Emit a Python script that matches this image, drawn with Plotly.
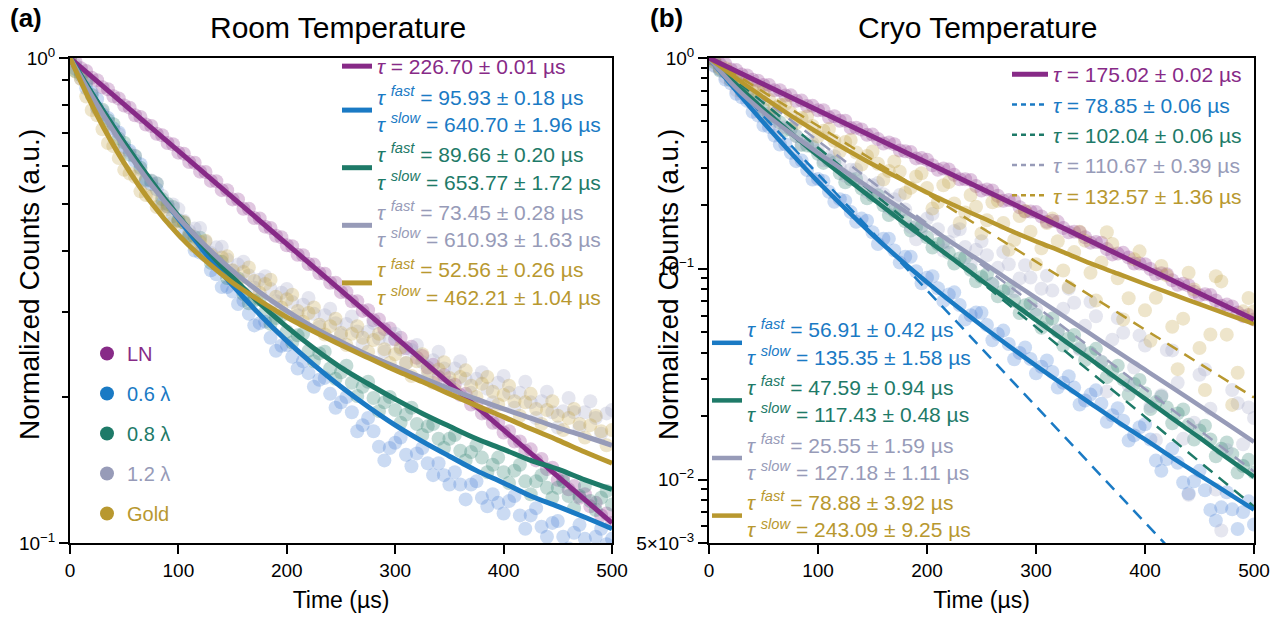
import math
import plotly.graph_objects as go

# ---------------- data ----------------
T_DATA = list(range(0, 501, 5))      # µs, measured points
T_FIT = list(range(0, 501, 25))      # µs, fit curve samples
T_MONO = [0, 500]                    # µs, mono-exponential fit endpoints

SAMPLES = ["LN", "0.6 λ", "0.8 λ", "1.2 λ", "Gold"]
COLORS = ["#872a87", "#1a7ac4", "#1e7a68", "#979bb8", "#b8982f"]
POINT_COLORS = ["#8e2f8e", "#3f7bd2", "#237a68", "#9ea2c4", "#c2a040"]

# Room temperature measured counts (normalized)
ROOM_LN = [1.000, 0.983, 0.953, 0.940, 0.911, 0.900, 0.870, 0.862, 0.834, 0.825,
           0.798, 0.790, 0.762, 0.756, 0.729, 0.724, 0.698, 0.693, 0.668, 0.664,
           0.638, 0.635, 0.610, 0.608, 0.583, 0.582, 0.558, 0.557, 0.534, 0.534,
           0.511, 0.511, 0.489, 0.489, 0.468, 0.467, 0.449, 0.446, 0.430, 0.427,
           0.411, 0.409, 0.393, 0.392, 0.376, 0.375, 0.360, 0.359, 0.344, 0.344,
           0.329, 0.329, 0.315, 0.315, 0.301, 0.302, 0.288, 0.289, 0.276, 0.277,
           0.263, 0.265, 0.252, 0.254, 0.241, 0.243, 0.230, 0.233, 0.220, 0.222,
           0.211, 0.212, 0.202, 0.203, 0.193, 0.194, 0.185, 0.185, 0.177, 0.177,
           0.169, 0.170, 0.162, 0.162, 0.155, 0.156, 0.148, 0.149, 0.142, 0.143,
           0.135, 0.137, 0.129, 0.131, 0.124, 0.126, 0.119, 0.121, 0.114, 0.115,
           0.110]
ROOM_06 = [1.000, 0.950, 0.930, 0.866, 0.848, 0.822, 0.766, 0.752, 0.716, 0.702,
           0.655, 0.644, 0.614, 0.604, 0.559, 0.549, 0.536, 0.501, 0.494, 0.472,
           0.461, 0.433, 0.427, 0.401, 0.397, 0.392, 0.365, 0.358, 0.337, 0.337,
           0.330, 0.311, 0.316, 0.297, 0.281, 0.284, 0.286, 0.265, 0.249, 0.255,
           0.256, 0.242, 0.229, 0.237, 0.224, 0.210, 0.217, 0.219, 0.203, 0.190,
           0.195, 0.200, 0.186, 0.170, 0.175, 0.181, 0.170, 0.158, 0.148, 0.157,
           0.161, 0.165, 0.152, 0.144, 0.153, 0.157, 0.146, 0.138, 0.146, 0.138,
           0.132, 0.140, 0.132, 0.123, 0.132, 0.134, 0.124, 0.119, 0.126, 0.121,
           0.115, 0.122, 0.125, 0.114, 0.107, 0.114, 0.118, 0.108, 0.103, 0.110,
           0.111, 0.103, 0.0974, 0.105, 0.109, 0.102, 0.0963, 0.103, 0.107, 0.0994,
           0.102]
ROOM_08 = [1.000, 0.940, 0.921, 0.892, 0.839, 0.789, 0.782, 0.744, 0.730, 0.682,
           0.669, 0.632, 0.628, 0.594, 0.562, 0.558, 0.551, 0.512, 0.500, 0.493,
           0.463, 0.458, 0.431, 0.427, 0.426, 0.397, 0.378, 0.383, 0.380, 0.352,
           0.349, 0.351, 0.326, 0.312, 0.316, 0.318, 0.299, 0.283, 0.291, 0.294,
           0.273, 0.259, 0.268, 0.270, 0.249, 0.237, 0.246, 0.248, 0.229, 0.218,
           0.225, 0.232, 0.214, 0.201, 0.210, 0.215, 0.199, 0.187, 0.195, 0.200,
           0.188, 0.177, 0.184, 0.190, 0.176, 0.167, 0.174, 0.176, 0.164, 0.157,
           0.164, 0.167, 0.155, 0.148, 0.154, 0.159, 0.150, 0.140, 0.145, 0.150,
           0.140, 0.133, 0.141, 0.145, 0.134, 0.126, 0.134, 0.138, 0.130, 0.124,
           0.130, 0.134, 0.125, 0.118, 0.125, 0.131, 0.122, 0.117, 0.124, 0.128,
           0.120]
ROOM_12 = [1.000, 0.966, 0.906, 0.893, 0.837, 0.785, 0.777, 0.732, 0.710, 0.696,
           0.648, 0.638, 0.628, 0.589, 0.557, 0.559, 0.552, 0.520, 0.494, 0.499,
           0.488, 0.462, 0.440, 0.445, 0.446, 0.418, 0.396, 0.407, 0.408, 0.384,
           0.364, 0.375, 0.380, 0.356, 0.336, 0.349, 0.355, 0.334, 0.315, 0.328,
           0.334, 0.314, 0.295, 0.310, 0.320, 0.297, 0.279, 0.295, 0.304, 0.284,
           0.268, 0.283, 0.293, 0.273, 0.257, 0.273, 0.284, 0.264, 0.248, 0.263,
           0.270, 0.251, 0.235, 0.250, 0.256, 0.236, 0.222, 0.238, 0.248, 0.229,
           0.214, 0.229, 0.237, 0.218, 0.204, 0.218, 0.225, 0.208, 0.195, 0.214,
           0.221, 0.204, 0.190, 0.204, 0.215, 0.195, 0.181, 0.196, 0.205, 0.186,
           0.173, 0.187, 0.199, 0.186, 0.173, 0.186, 0.196, 0.181, 0.168, 0.185,
           0.188]
ROOM_AU = [1.000, 0.938, 0.906, 0.833, 0.781, 0.762, 0.713, 0.668, 0.658, 0.622,
           0.588, 0.578, 0.569, 0.531, 0.522, 0.518, 0.493, 0.492, 0.487, 0.458,
           0.458, 0.459, 0.432, 0.409, 0.418, 0.420, 0.393, 0.377, 0.388, 0.390,
           0.365, 0.348, 0.362, 0.370, 0.347, 0.328, 0.342, 0.349, 0.322, 0.306,
           0.318, 0.325, 0.301, 0.286, 0.298, 0.306, 0.282, 0.269, 0.280, 0.290,
           0.271, 0.256, 0.270, 0.280, 0.265, 0.248, 0.262, 0.270, 0.251, 0.235,
           0.245, 0.253, 0.235, 0.221, 0.237, 0.245, 0.227, 0.214, 0.228, 0.236,
           0.219, 0.207, 0.220, 0.227, 0.211, 0.200, 0.213, 0.220, 0.205, 0.193,
           0.202, 0.211, 0.196, 0.183, 0.195, 0.203, 0.189, 0.176, 0.188, 0.196,
           0.183, 0.171, 0.181, 0.189, 0.176, 0.165, 0.175, 0.183, 0.170, 0.159,
           0.171]

# Cryo temperature measured counts (normalized)
CRYO_LN = [1.000, 0.981, 0.935, 0.936, 0.883, 0.876, 0.834, 0.827, 0.788, 0.781,
           0.744, 0.745, 0.703, 0.704, 0.664, 0.665, 0.627, 0.628, 0.592, 0.593,
           0.565, 0.565, 0.523, 0.529, 0.504, 0.504, 0.466, 0.467, 0.458, 0.432,
           0.433, 0.4125, 0.393, 0.397, 0.390, 0.364, 0.361, 0.358, 0.334, 0.335,
           0.329, 0.310, 0.295, 0.299, 0.296, 0.279, 0.266, 0.266, 0.264, 0.247,
           0.235, 0.238, 0.235, 0.222, 0.210, 0.212, 0.210, 0.196, 0.187, 0.187,
           0.186, 0.177, 0.167, 0.169, 0.167, 0.156, 0.149, 0.150, 0.149, 0.141,
           0.133, 0.134, 0.133, 0.124, 0.117, 0.118, 0.119, 0.113, 0.106, 0.106,
           0.105, 0.0998, 0.0942, 0.0953, 0.0943, 0.0882, 0.0840, 0.0850, 0.0833, 0.0778,
           0.0749, 0.0758, 0.0751, 0.0708, 0.0668, 0.0676, 0.0663, 0.0620, 0.0596, 0.0603,
           0.0574]
CRYO_06 = [1.000, 0.922, 0.883, 0.790, 0.758, 0.677, 0.651, 0.626, 0.556, 0.534,
           0.479, 0.471, 0.429, 0.389, 0.390, 0.355, 0.324, 0.326, 0.294, 0.265,
           0.267, 0.261, 0.232, 0.208, 0.214, 0.210, 0.186, 0.167, 0.173, 0.169,
           0.149, 0.131, 0.139, 0.139, 0.122, 0.107, 0.114, 0.114, 0.0973, 0.0853,
           0.0906, 0.0921, 0.0808, 0.0702, 0.0755, 0.0773, 0.0673, 0.0575, 0.0602, 0.0620,
           0.0619, 0.0541, 0.0458, 0.0490, 0.0509, 0.0440, 0.0372, 0.0399, 0.0423, 0.0373,
           0.0319, 0.0343, 0.0367, 0.0324, 0.0273, 0.0288, 0.0309, 0.0273, 0.0227, 0.0237,
           0.0253, 0.0265, 0.0229, 0.0188, 0.0202, 0.0218, 0.0190, 0.0153, 0.0162, 0.0177,
           0.0183, 0.0155, 0.0123, 0.0110, 0.0125, 0.0140, 0.0120, 0.00968, 0.00859, 0.00981,
           0.0110, 0.00889, 0.00718, 0.00639, 0.00738, 0.00870, 0.00722, 0.00583, 0.00702, 0.00788,
           0.00612]
CRYO_08 = [1.000, 0.953, 0.873, 0.858, 0.786, 0.764, 0.695, 0.679, 0.630, 0.620,
           0.571, 0.526, 0.530, 0.494, 0.455, 0.459, 0.427, 0.387, 0.384, 0.379,
           0.351, 0.318, 0.326, 0.319, 0.284, 0.257, 0.266, 0.267, 0.240, 0.216,
           0.223, 0.223, 0.200, 0.180, 0.188, 0.188, 0.168, 0.152, 0.158, 0.159,
           0.141, 0.126, 0.131, 0.134, 0.119, 0.106, 0.112, 0.113, 0.0990, 0.0873,
           0.0915, 0.0943, 0.0846, 0.0741, 0.0783, 0.0807, 0.0705, 0.0617, 0.0672, 0.0685,
           0.0605, 0.0525, 0.0565, 0.0581, 0.0504, 0.0432, 0.0467, 0.0485, 0.0421, 0.0369,
           0.0398, 0.0417, 0.0361, 0.0306, 0.0328, 0.0347, 0.0298, 0.0253, 0.0284, 0.0297,
           0.0257, 0.0216, 0.0233, 0.0248, 0.0220, 0.0185, 0.0206, 0.0215, 0.0182, 0.0155,
           0.0171, 0.0180, 0.0155, 0.0129, 0.0140, 0.0150, 0.0132, 0.0108, 0.0116, 0.0124,
           0.0108]
CRYO_12 = [1.000, 0.917, 0.885, 0.813, 0.783, 0.705, 0.682, 0.666, 0.608, 0.594,
           0.546, 0.544, 0.504, 0.467, 0.469, 0.461, 0.425, 0.391, 0.399, 0.393,
           0.362, 0.327, 0.340, 0.342, 0.305, 0.276, 0.295, 0.296, 0.262, 0.232,
           0.249, 0.255, 0.226, 0.194, 0.214, 0.224, 0.191, 0.158, 0.138, 0.153,
           0.173, 0.182, 0.154, 0.122, 0.134, 0.151, 0.154, 0.127, 0.105, 0.123,
           0.135, 0.116, 0.0848, 0.101, 0.120, 0.105, 0.0784, 0.0900, 0.104, 0.0908,
           0.0641, 0.0805, 0.0927, 0.0788, 0.0510, 0.0646, 0.0805, 0.0690, 0.0414, 0.0537,
           0.0697, 0.0595, 0.0362, 0.0262, 0.0461, 0.0584, 0.0497, 0.0280, 0.0340, 0.0483,
           0.0432, 0.0223, 0.0154, 0.0251, 0.0412, 0.0410, 0.0288, 0.0156, 0.00847, 0.0186,
           0.0314, 0.0333, 0.0217, 0.00896, 0.00573, 0.0138, 0.0266, 0.0230, 0.0147, 0.0220,
           0.0196]
CRYO_AU = [1.000, 0.967, 0.897, 0.894, 0.838, 0.777, 0.792, 0.744, 0.693, 0.705,
           0.689, 0.636, 0.582, 0.600, 0.604, 0.549, 0.492, 0.519, 0.528, 0.476,
           0.424, 0.452, 0.460, 0.405, 0.360, 0.400, 0.408, 0.356, 0.312, 0.343,
           0.360, 0.315, 0.265, 0.291, 0.323, 0.289, 0.229, 0.242, 0.274, 0.284,
           0.242, 0.193, 0.207, 0.249, 0.258, 0.204, 0.165, 0.185, 0.224, 0.197,
           0.147, 0.170, 0.207, 0.210, 0.165, 0.123, 0.137, 0.178, 0.188, 0.150,
           0.105, 0.125, 0.165, 0.173, 0.135, 0.0982, 0.0818, 0.120, 0.150, 0.136,
           0.0957, 0.0707, 0.107, 0.149, 0.131, 0.0901, 0.0575, 0.0725, 0.111, 0.121,
           0.0635, 0.0455, 0.0729, 0.103, 0.0930, 0.0531, 0.0334, 0.0580, 0.0957, 0.0798,
           0.0421, 0.0266, 0.0488, 0.0922, 0.0871, 0.0487, 0.0226, 0.0321, 0.0628, 0.0727,
           0.0629]

# Fit curves
ROOM_FIT_LN = [1.000, 0.110]
ROOM_FIT_06 = [1.000, 0.814, 0.668, 0.555, 0.466, 0.396, 0.340, 0.296, 0.261, 0.233, 0.210,
               0.191, 0.175, 0.162, 0.151, 0.141, 0.133, 0.125, 0.119, 0.113, 0.107]
ROOM_FIT_08 = [1.000, 0.813, 0.669, 0.558, 0.472, 0.405, 0.353, 0.312, 0.279, 0.252, 0.230,
               0.213, 0.198, 0.185, 0.174, 0.164, 0.156, 0.148, 0.142, 0.135, 0.129]
ROOM_FIT_12 = [1.000, 0.801, 0.655, 0.548, 0.469, 0.410, 0.364, 0.329, 0.301, 0.278, 0.260,
               0.244, 0.231, 0.219, 0.208, 0.198, 0.189, 0.181, 0.173, 0.166, 0.159]
ROOM_FIT_AU = [1.000, 0.762, 0.607, 0.503, 0.432, 0.382, 0.344, 0.316, 0.292, 0.273, 0.256,
               0.241, 0.227, 0.215, 0.203, 0.192, 0.182, 0.172, 0.163, 0.154, 0.146]

CRYO_FIT_LN = [1.000, 0.0574]
CRYO_MONO_06 = [1.000, 0.00176]
CRYO_MONO_08 = [1.000, 0.00745]
CRYO_MONO_12 = [1.000, 0.0109]
CRYO_MONO_AU = [1.000, 0.0245]
CRYO_FIT_06 = [1.000, 0.698, 0.494, 0.355, 0.259, 0.193, 0.145, 0.111, 0.0863, 0.0678, 0.0538,
               0.0431, 0.0347, 0.0282, 0.0230, 0.0188, 0.0155, 0.0127, 0.0105, 0.0087, 0.0072]
CRYO_FIT_08 = [1.000, 0.749, 0.571, 0.441, 0.344, 0.271, 0.215, 0.171, 0.137, 0.110, 0.0880,
               0.0708, 0.0571, 0.0460, 0.0372, 0.0299, 0.0242, 0.0195, 0.0158, 0.0127, 0.0103]
CRYO_FIT_12 = [1.000, 0.719, 0.552, 0.439, 0.355, 0.290, 0.237, 0.195, 0.160, 0.131, 0.108,
               0.0886, 0.0728, 0.0598, 0.0491, 0.0403, 0.0332, 0.0273, 0.0224, 0.0184, 0.0151]
CRYO_FIT_AU = [1.000, 0.802, 0.650, 0.533, 0.442, 0.370, 0.313, 0.268, 0.230, 0.200, 0.175,
               0.153, 0.135, 0.120, 0.106, 0.0948, 0.0847, 0.0758, 0.0679, 0.0609, 0.0547]

# Lifetime labels
ROOM_TAU_LN = "226.70 ± 0.01"
ROOM_TAU_BI = [("95.93 ± 0.18", "640.70 ± 1.96"), ("89.66 ± 0.20", "653.77 ± 1.72"),
               ("73.45 ± 0.28", "610.93 ± 1.63"), ("52.56 ± 0.26", "462.21 ± 1.04")]
CRYO_TAU_MONO = ["175.02 ± 0.02", "78.85 ± 0.06", "102.04 ± 0.06", "110.67 ± 0.39", "132.57 ± 1.36"]
CRYO_TAU_BI = [("56.91 ± 0.42", "135.35 ± 1.58"), ("47.59 ± 0.94", "117.43 ± 0.48"),
               ("25.55 ± 1.59", "127.18 ± 1.11"), ("78.88 ± 3.92", "243.09 ± 9.25")]

# ---------------- helpers ----------------
FONT = "Liberation Sans, Arial, Helvetica, sans-serif"


def colored(color, text):
    return f"<span style='color:{color}'>{text}</span>"


def mono_label(color, val):
    return colored(color, f"<i>τ</i> = {val} µs")


def bi_label(color, fast, slow):
    return (colored(color, f"<i>τ</i> <sup><i>fast</i></sup> = {fast} µs") + "<br>" +
            colored(color, f"<i>τ</i> <sup><i>slow</i></sup> = {slow} µs"))


fig = go.Figure()

room_data = [ROOM_LN, ROOM_06, ROOM_08, ROOM_12, ROOM_AU]
cryo_data = [CRYO_LN, CRYO_06, CRYO_08, CRYO_12, CRYO_AU]

# measured points
for vals, col in zip(room_data, POINT_COLORS):
    fig.add_trace(go.Scatter(x=T_DATA[:len(vals)], y=vals, mode="markers",
                             marker=dict(size=14, color=col, opacity=0.27, line=dict(width=0)),
                             xaxis="x", yaxis="y", showlegend=False, hoverinfo="skip"))
for vals, col in zip(cryo_data, POINT_COLORS):
    fig.add_trace(go.Scatter(x=T_DATA[:len(vals)], y=vals, mode="markers",
                             marker=dict(size=14, color=col, opacity=0.27, line=dict(width=0)),
                             xaxis="x2", yaxis="y2", showlegend=False, hoverinfo="skip"))

# sample legend (markers) in panel a
for s, col in zip(SAMPLES, COLORS):
    fig.add_trace(go.Scatter(x=[None], y=[None], mode="markers",
                             marker=dict(size=14, color=col),
                             name=colored(col, s), legend="legend2", legendgroup=s,
                             xaxis="x", yaxis="y"))

# room temperature fits
fig.add_trace(go.Scatter(x=T_MONO, y=ROOM_FIT_LN, mode="lines",
                         line=dict(color=COLORS[0], width=5),
                         name=mono_label(COLORS[0], ROOM_TAU_LN), legend="legend",
                         xaxis="x", yaxis="y"))
for fit, col, (f, s) in zip([ROOM_FIT_06, ROOM_FIT_08, ROOM_FIT_12, ROOM_FIT_AU],
                            COLORS[1:], ROOM_TAU_BI):
    fig.add_trace(go.Scatter(x=T_FIT, y=fit, mode="lines", line_shape="spline",
                             line=dict(color=col, width=5),
                             name=bi_label(col, f, s), legend="legend",
                             xaxis="x", yaxis="y"))

# cryo mono-exponential dashed fits
for fit, col in zip([CRYO_MONO_06, CRYO_MONO_08, CRYO_MONO_12, CRYO_MONO_AU], COLORS[1:]):
    fig.add_trace(go.Scatter(x=T_MONO, y=fit, mode="lines",
                             line=dict(color=col, width=2.5, dash="12px,8px"),
                             showlegend=False, xaxis="x2", yaxis="y2"))

# cryo biexponential fits
for fit, col, (f, s) in zip([CRYO_FIT_06, CRYO_FIT_08, CRYO_FIT_12, CRYO_FIT_AU],
                            COLORS[1:], CRYO_TAU_BI):
    fig.add_trace(go.Scatter(x=T_FIT, y=fit, mode="lines", line_shape="spline",
                             line=dict(color=col, width=4.5),
                             name=bi_label(col, f, s), legend="legend4",
                             xaxis="x2", yaxis="y2"))

# cryo LN fit
fig.add_trace(go.Scatter(x=T_MONO, y=CRYO_FIT_LN, mode="lines",
                         line=dict(color=COLORS[0], width=5),
                         name=mono_label(COLORS[0], CRYO_TAU_MONO[0]), legend="legend3",
                         xaxis="x2", yaxis="y2"))
# legend entries for dashed mono fits
for col, val in zip(COLORS[1:], CRYO_TAU_MONO[1:]):
    fig.add_trace(go.Scatter(x=[None], y=[None], mode="lines",
                             line=dict(color=col, width=2.5, dash="5px,4px"),
                             name=mono_label(col, val), legend="legend3",
                             xaxis="x2", yaxis="y2"))

# ---------------- layout ----------------
W, H = 1288, 621
ML, MR, MT, MB = 70, 34, 58, 78
PW, PH = W - ML - MR, H - MT - MB


def px_x(p):
    return (p - ML) / PW


def px_y(p):
    return (H - MB - p) / PH


xcommon = dict(range=[0, 500], tickmode="array", tickvals=[0, 100, 200, 300, 400, 500],
               ticks="outside", ticklen=9, tickwidth=2, tickcolor="black",
               showline=True, linewidth=2, linecolor="black", mirror=True,
               showgrid=False, zeroline=False,
               tickfont=dict(size=19, family=FONT, color="black"),
               title=dict(text="Time (µs)", font=dict(size=23, family=FONT, color="black"),
                          standoff=12))


def sup(e):
    return f"10<sup>{e}</sup>"


ycommon = dict(type="log", ticks="outside", ticklen=9, tickwidth=2, tickcolor="black",
               showline=True, linewidth=2, linecolor="black", mirror=True,
               showgrid=False, zeroline=False,
               tickfont=dict(size=19, family=FONT, color="black"))

legend_base = dict(xanchor="left", yanchor="top", bgcolor="rgba(0,0,0,0)", borderwidth=0,
                   itemwidth=30, tracegroupgap=0)

fig.update_layout(
    width=W, height=H,
    margin=dict(l=ML, r=MR, t=MT, b=MB),
    paper_bgcolor="white", plot_bgcolor="white",
    font=dict(family=FONT, color="black"),
    xaxis=dict(domain=[0, px_x(612)], anchor="y", **xcommon),
    xaxis2=dict(domain=[px_x(709), 1.0], anchor="y2", **xcommon),
    yaxis=dict(domain=[0, 1], anchor="x", range=[-1, 0],
               tickmode="array", tickvals=[0.1, 1], ticktext=[sup("−1"), sup("0")],
               minor=dict(tickmode="array", tickvals=[0.2, 0.3, 0.4, 0.5, 0.6, 0.7, 0.8, 0.9],
                          ticks="outside", ticklen=6, tickwidth=1.5, tickcolor="black",
                          showgrid=False),
               **ycommon),
    yaxis2=dict(domain=[0, 1], anchor="x2", range=[math.log10(0.005), 0],
                tickmode="array", tickvals=[0.005, 0.01, 0.1, 1],
                ticktext=["5×" + sup("−3"), sup("−2"), sup("−1"), sup("0")],
                minor=dict(tickmode="array",
                           tickvals=[0.006, 0.007, 0.008, 0.009,
                                     0.02, 0.03, 0.04, 0.05, 0.06, 0.07, 0.08, 0.09,
                                     0.2, 0.3, 0.4, 0.5, 0.6, 0.7, 0.8, 0.9],
                           ticks="outside", ticklen=6, tickwidth=1.5, tickcolor="black",
                           showgrid=False),
                **ycommon),
    legend=dict(x=px_x(337), y=px_y(46), font=dict(size=21, family=FONT), **legend_base),
    legend2=dict(x=px_x(87), y=px_y(334), font=dict(size=20, family=FONT),
                 **{**legend_base, "tracegroupgap": 11}),
    legend3=dict(x=px_x(1007), y=px_y(54), font=dict(size=21, family=FONT),
                 **{**legend_base, "itemwidth": 36}),
    legend4=dict(x=px_x(707), y=px_y(309), font=dict(size=21, family=FONT), **legend_base),
    annotations=[
        dict(text="<b>(a)</b>", x=px_x(8), y=px_y(18), xref="paper", yref="paper",
             xanchor="left", yanchor="middle", showarrow=False, font=dict(size=26, family=FONT)),
        dict(text="<b>(b)</b>", x=px_x(648), y=px_y(18), xref="paper", yref="paper",
             xanchor="left", yanchor="middle", showarrow=False, font=dict(size=26, family=FONT)),
        dict(text="Room Temperature", x=px_x(338), y=px_y(27), xref="paper", yref="paper",
             xanchor="center", yanchor="middle", showarrow=False, font=dict(size=30, family=FONT)),
        dict(text="Cryo Temperature", x=px_x(978), y=px_y(27), xref="paper", yref="paper",
             xanchor="center", yanchor="middle", showarrow=False, font=dict(size=30, family=FONT)),
        dict(text="Normalized Counts (a.u.)", x=px_x(29), y=px_y(285), xref="paper", yref="paper",
             xanchor="center", yanchor="middle", textangle=-90, showarrow=False,
             font=dict(size=28, family=FONT)),
        dict(text="Normalized Counts (a.u.)", x=px_x(668), y=px_y(285), xref="paper", yref="paper",
             xanchor="center", yanchor="middle", textangle=-90, showarrow=False,
             font=dict(size=28, family=FONT)),
    ],
)

fig.write_html("out.html")
